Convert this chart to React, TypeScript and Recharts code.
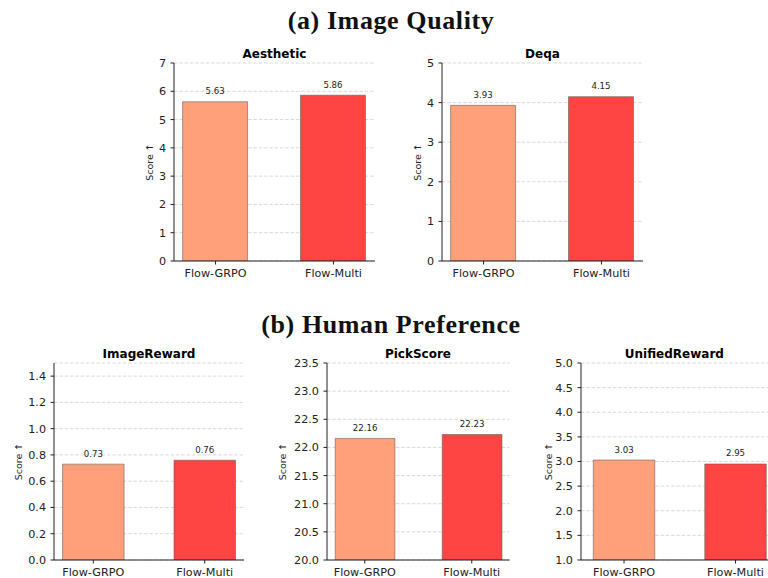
import { Bar, BarChart, CartesianGrid, Cell, LabelList, XAxis, YAxis } from "recharts"

const CATEGORIES = ["Flow-GRPO", "Flow-Multi"]
const COLORS = ["#FFA07A", "#FF4444"]

const AESTHETIC = [5.63, 5.86]
const DEQA = [3.93, 4.15]
const IMAGE_REWARD = [0.73, 0.76]
const PICK_SCORE = [22.16, 22.23]
const UNIFIED_REWARD = [3.03, 2.95]

const AESTHETIC_TICKS = [0, 1, 2, 3, 4, 5, 6, 7]
const DEQA_TICKS = [0, 1, 2, 3, 4, 5]
const IMAGE_REWARD_TICKS = [0, 0.2, 0.4, 0.6, 0.8, 1.0, 1.2, 1.4]
const PICK_SCORE_TICKS = [20, 20.5, 21, 21.5, 22, 22.5, 23, 23.5]
const UNIFIED_REWARD_TICKS = [1, 1.5, 2, 2.5, 3, 3.5, 4, 4.5, 5]

const FONT = "DejaVu Sans"
const INK = "#222"

type Panel = {
  title: string
  values: number[]
  ticks: number[]
  yDomain: [number, number]
  digits: number
  left: number
  top: number
  width: number
  height: number
  xDomain: [number, number]
  barSize: number
  labelGap: number
}

const panels: Panel[] = [
  { title: "Aesthetic", values: AESTHETIC, ticks: AESTHETIC_TICKS, yDomain: [0, 7], digits: 0,
    left: 174, top: 63, width: 201, height: 198, xDomain: [-0.3525, 1.3525], barSize: 65, labelGap: 25 },
  { title: "Deqa", values: DEQA, ticks: DEQA_TICKS, yDomain: [0, 5], digits: 0,
    left: 442, top: 63, width: 201, height: 198, xDomain: [-0.3525, 1.3525], barSize: 65, labelGap: 25 },
  { title: "ImageReward", values: IMAGE_REWARD, ticks: IMAGE_REWARD_TICKS, yDomain: [0, 1.5], digits: 1,
    left: 54, top: 363, width: 190, height: 197, xDomain: [-0.3525, 1.3525], barSize: 61.5, labelGap: 36 },
  { title: "PickScore", values: PICK_SCORE, ticks: PICK_SCORE_TICKS, yDomain: [20, 23.5], digits: 1,
    left: 326.7, top: 363, width: 182.5, height: 197, xDomain: [-0.3525, 1.3525], barSize: 59.7, labelGap: 44 },
  { title: "UnifiedReward", values: UNIFIED_REWARD, ticks: UNIFIED_REWARD_TICKS, yDomain: [1, 5], digits: 1,
    left: 580.7, top: 363, width: 187.3, height: 197, xDomain: [-0.386, 1.294], barSize: 61.5, labelGap: 32 },
]

const PAD_LEFT = 50
const PAD_TOP = 10
const AXIS_H = 30

function ScorePanel({ p }: { p: Panel }) {
  const data = CATEGORIES.map((name, i) => ({ idx: i, name, value: p.values[i] }))
  return (
    <div style={{ position: "absolute", left: p.left - PAD_LEFT, top: p.top - PAD_TOP }}>
      <BarChart
        width={p.width + PAD_LEFT + 2}
        height={p.height + PAD_TOP + AXIS_H}
        data={data}
        margin={{ top: PAD_TOP, right: 2, left: 0, bottom: 0 }}
        style={{ fontFamily: FONT }}
      >
        <CartesianGrid vertical={false} stroke="#d9d9d9" strokeDasharray="3.5 1.8" />
        <XAxis
          dataKey="idx"
          type="number"
          domain={p.xDomain}
          ticks={[0, 1]}
          interval={0}
          allowDataOverflow
          height={AXIS_H}
          tickFormatter={(v: number) => CATEGORIES[v]}
          tick={{ fontSize: 11.2, fill: INK }}
          tickSize={3.5}
          tickMargin={4.5}
          axisLine={{ stroke: INK, strokeWidth: 1 }}
          tickLine={{ stroke: INK, strokeWidth: 1 }}
        />
        <YAxis
          type="number"
          domain={p.yDomain}
          ticks={p.ticks}
          interval={0}
          allowDataOverflow
          width={PAD_LEFT}
          tickFormatter={(v: number) => v.toFixed(p.digits)}
          tick={{ fontSize: 11.2, fill: INK }}
          tickSize={3.5}
          tickMargin={4.5}
          axisLine={{ stroke: INK, strokeWidth: 1 }}
          tickLine={{ stroke: INK, strokeWidth: 1 }}
        />
        <Bar dataKey="value" barSize={p.barSize} stroke="#555" strokeOpacity={0.6} strokeWidth={0.9} isAnimationActive={false}>
          {data.map((d, i) => (
            <Cell key={d.name} fill={COLORS[i]} />
          ))}
          <LabelList
            dataKey="value"
            position="top"
            offset={7.5}
            fontSize={8.6}
            fill={INK}
            stroke="none"
            formatter={(v: number) => Number(v).toFixed(2)}
          />
        </Bar>
      </BarChart>
    </div>
  )
}

export default function App() {
  return (
    <div style={{ position: "absolute", left: 0, top: 0, width: 768, height: 578, overflow: "hidden", background: "#fff" }}>
      {panels.map((p) => (
        <ScorePanel key={p.title} p={p} />
      ))}
      <svg width={768} height={578} style={{ position: "absolute", left: 0, top: 0, pointerEvents: "none" }}>
        <text x={391} y={28.5} textAnchor="middle" fontFamily="Liberation Serif" fontWeight="bold" fontSize={26} letterSpacing={0.6} fill="#111">
          (a) Image Quality
        </text>
        <text x={391} y={333} textAnchor="middle" fontFamily="Liberation Serif" fontWeight="bold" fontSize={26} letterSpacing={0.6} fill="#111">
          (b) Human Preference
        </text>
        {panels.map((p) => (
          <g key={p.title}>
            <text x={p.left + p.width / 2} y={p.top - 5} textAnchor="middle" fontFamily={FONT} fontWeight="bold" fontSize={12} fill="#000">
              {p.title}
            </text>
            <text
              x={p.left - p.labelGap}
              y={p.top + p.height / 2}
              transform={`rotate(-90 ${p.left - p.labelGap} ${p.top + p.height / 2})`}
              textAnchor="middle"
              dominantBaseline="central"
              fontFamily={FONT}
              fontSize={9.5}
              fill={INK}
            >
              Score ↑
            </text>
          </g>
        ))}
      </svg>
    </div>
  )
}
